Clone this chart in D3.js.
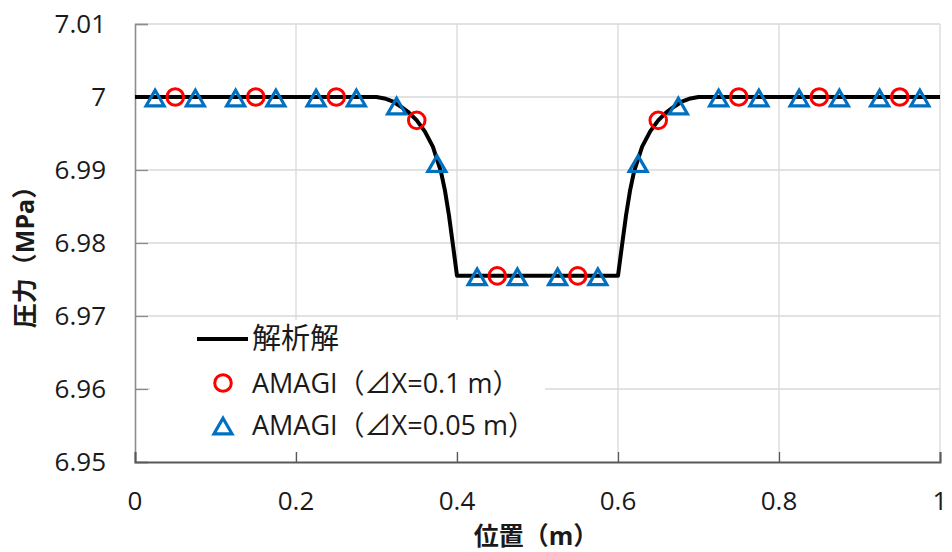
<!DOCTYPE html>
<html>
<head>
<meta charset="utf-8">
<script src="https://cdn.jsdelivr.net/npm/d3@7"></script>
<style>
  html, body { margin: 0; padding: 0; background: #fff; }
  svg { display: block; }
  text { font-family: "Open Sans", "Noto Sans CJK JP", sans-serif; fill: #1a1a1a; }
</style>
</head>
<body>
<svg id="chart" width="952" height="552"></svg>
<script>
// Axis ticks
const xTicks = [0, 0.2, 0.4, 0.6, 0.8, 1];
const yTicks = [6.95, 6.96, 6.97, 6.98, 6.99, 7, 7.01];

// Analytical solution (position m, pressure MPa)
const analyticX = [0, 0.30, 0.31, 0.32, 0.33, 0.34, 0.35, 0.36, 0.37, 0.38, 0.385, 0.39, 0.395, 0.40,
                   0.60, 0.605, 0.61, 0.615, 0.62, 0.63, 0.64, 0.65, 0.66, 0.67, 0.68, 0.69, 0.70, 1.0];
const analyticP = [7, 7, 6.9998, 6.9994, 6.9987, 6.9979, 6.9968, 6.9953, 6.9932, 6.9898, 6.9872, 6.9838, 6.9797, 6.9755,
                   6.9755, 6.9797, 6.9838, 6.9872, 6.9898, 6.9932, 6.9953, 6.9968, 6.9979, 6.9987, 6.9994, 6.9998, 7, 7];

// AMAGI, cell size 0.1 m
const amagi01X = [0.05, 0.15, 0.25, 0.35, 0.45, 0.55, 0.65, 0.75, 0.85, 0.95];
const amagi01P = [7, 7, 7, 6.9968, 6.9755, 6.9755, 6.9968, 7, 7, 7];

// AMAGI, cell size 0.05 m
const amagi005X = [0.025, 0.075, 0.125, 0.175, 0.225, 0.275, 0.325, 0.375, 0.425, 0.475,
                   0.525, 0.575, 0.625, 0.675, 0.725, 0.775, 0.825, 0.875, 0.925, 0.975];
const amagi005P = [7, 7, 7, 7, 7, 7, 6.9989, 6.991, 6.9755, 6.9755,
                   6.9755, 6.9755, 6.991, 6.9989, 7, 7, 7, 7, 7, 7];

const legendLabels = ["解析解", "AMAGI（⊿X=0.1 m）", "AMAGI（⊿X=0.05 m）"];

const RED = "#ff0000", BLUE = "#0070c0";
const plot = { left: 135, right: 940, top: 24, bottom: 462 };

const svg = d3.select("#chart");
const x = d3.scaleLinear().domain([0, 1]).range([plot.left, plot.right]);
const y = d3.scaleLinear().domain([6.95, 7.01]).range([plot.bottom, plot.top]);

// Open triangle with its bounding box centred on the point
const triangleType = {
  draw(ctx, size) {
    const s = Math.sqrt(size);          // side length
    const h = s * Math.sqrt(3) / 2;
    ctx.moveTo(0, -h / 2 + 1);
    ctx.lineTo(s / 2, h / 2 + 1);
    ctx.lineTo(-s / 2, h / 2 + 1);
    ctx.closePath();
  }
};
const triPath = d3.symbol(triangleType, 18 * 18)();

// Gridlines
const grid = svg.append("g");
grid.selectAll("line.gx").data(xTicks.slice(1)).join("line")
  .attr("x1", d => x(d)).attr("x2", d => x(d))
  .attr("y1", plot.top).attr("y2", plot.bottom)
  .attr("stroke", "#d9d9d9").attr("stroke-width", 1.3);
grid.selectAll("line.gy").data(yTicks.slice(1)).join("line")
  .attr("x1", plot.left).attr("x2", plot.right)
  .attr("y1", d => y(d)).attr("y2", d => y(d))
  .attr("stroke", "#d9d9d9").attr("stroke-width", 1.3);

// Legend background hides the gridlines behind it
svg.append("rect")
  .attr("x", 150).attr("y", 320).attr("width", 395).attr("height", 132)
  .attr("fill", "#fff");

// Axes with inward ticks
const yAxis = svg.append("g").attr("transform", `translate(${plot.left},0)`)
  .call(d3.axisRight(y).tickValues(yTicks).tickSize(13).tickFormat(""));
yAxis.select(".domain").attr("stroke", "#8c8c8c").attr("stroke-width", 1.6);
yAxis.selectAll(".tick line").attr("stroke", "#8c8c8c").attr("stroke-width", 1.3);

const xAxis = svg.append("g").attr("transform", `translate(0,${plot.bottom})`)
  .call(d3.axisTop(x).tickValues(xTicks).tickSize(10).tickFormat(""));
xAxis.select(".domain").attr("stroke", "#595959").attr("stroke-width", 2);
xAxis.selectAll(".tick line").attr("stroke", "#595959").attr("stroke-width", 1.3);

// Tick labels
svg.append("g").selectAll("text").data(yTicks).join("text")
  .attr("x", 106).attr("y", d => y(d)).attr("dy", "0.35em")
  .attr("text-anchor", "end").style("font-size", "26px")
  .text(d => d3.format("")(+d.toFixed(2)));
svg.append("g").selectAll("text").data(xTicks).join("text")
  .attr("x", d => x(d)).attr("y", 510)
  .attr("text-anchor", "middle").style("font-size", "26px")
  .text(d => d3.format("")(+d.toFixed(1)));

// Axis titles
svg.append("text")
  .attr("transform", `translate(34,${(plot.top + plot.bottom) / 2 + 8}) rotate(-90)`)
  .attr("text-anchor", "middle").style("font-size", "25px").style("font-weight", "bold")
  .text("圧力（MPa）");
svg.append("text")
  .attr("x", 536).attr("y", 545)
  .attr("text-anchor", "middle").style("font-size", "25px").style("font-weight", "bold")
  .text("位置（m）");

// Analytical line
const lineData = analyticX.map((v, i) => [v, analyticP[i]]);
svg.append("path")
  .datum(lineData)
  .attr("fill", "none").attr("stroke", "#000").attr("stroke-width", 4)
  .attr("stroke-linejoin", "round")
  .attr("d", d3.line().x(d => x(d[0])).y(d => y(d[1])));

// AMAGI 0.05 m markers
svg.append("g").selectAll("path").data(amagi005X.map((v, i) => [v, amagi005P[i]])).join("path")
  .attr("transform", d => `translate(${x(d[0])},${y(d[1])})`)
  .attr("d", triPath)
  .attr("fill", "none").attr("stroke", BLUE).attr("stroke-width", 3.2)
  .attr("stroke-linejoin", "miter");

// AMAGI 0.1 m markers
svg.append("g").selectAll("circle").data(amagi01X.map((v, i) => [v, amagi01P[i]])).join("circle")
  .attr("cx", d => x(d[0])).attr("cy", d => y(d[1])).attr("r", 8.3)
  .attr("fill", "none").attr("stroke", RED).attr("stroke-width", 3);

// Legend
const lg = svg.append("g");
const rowY = [339, 383, 425];
lg.append("line").attr("x1", 197).attr("x2", 248).attr("y1", rowY[0]).attr("y2", rowY[0])
  .attr("stroke", "#000").attr("stroke-width", 4);
lg.append("circle").attr("cx", 223).attr("cy", rowY[1]).attr("r", 8.3)
  .attr("fill", "none").attr("stroke", RED).attr("stroke-width", 3);
lg.append("path").attr("transform", `translate(223,${rowY[2]})`).attr("d", triPath)
  .attr("fill", "none").attr("stroke", BLUE).attr("stroke-width", 3.2);
lg.selectAll("text").data(legendLabels).join("text")
  .attr("x", 252).attr("y", (d, i) => rowY[i]).attr("dy", "0.36em")
  .style("font-size", (d, i) => i === 0 ? "29px" : "27px")
  .text(d => d);
</script>
</body>
</html>
